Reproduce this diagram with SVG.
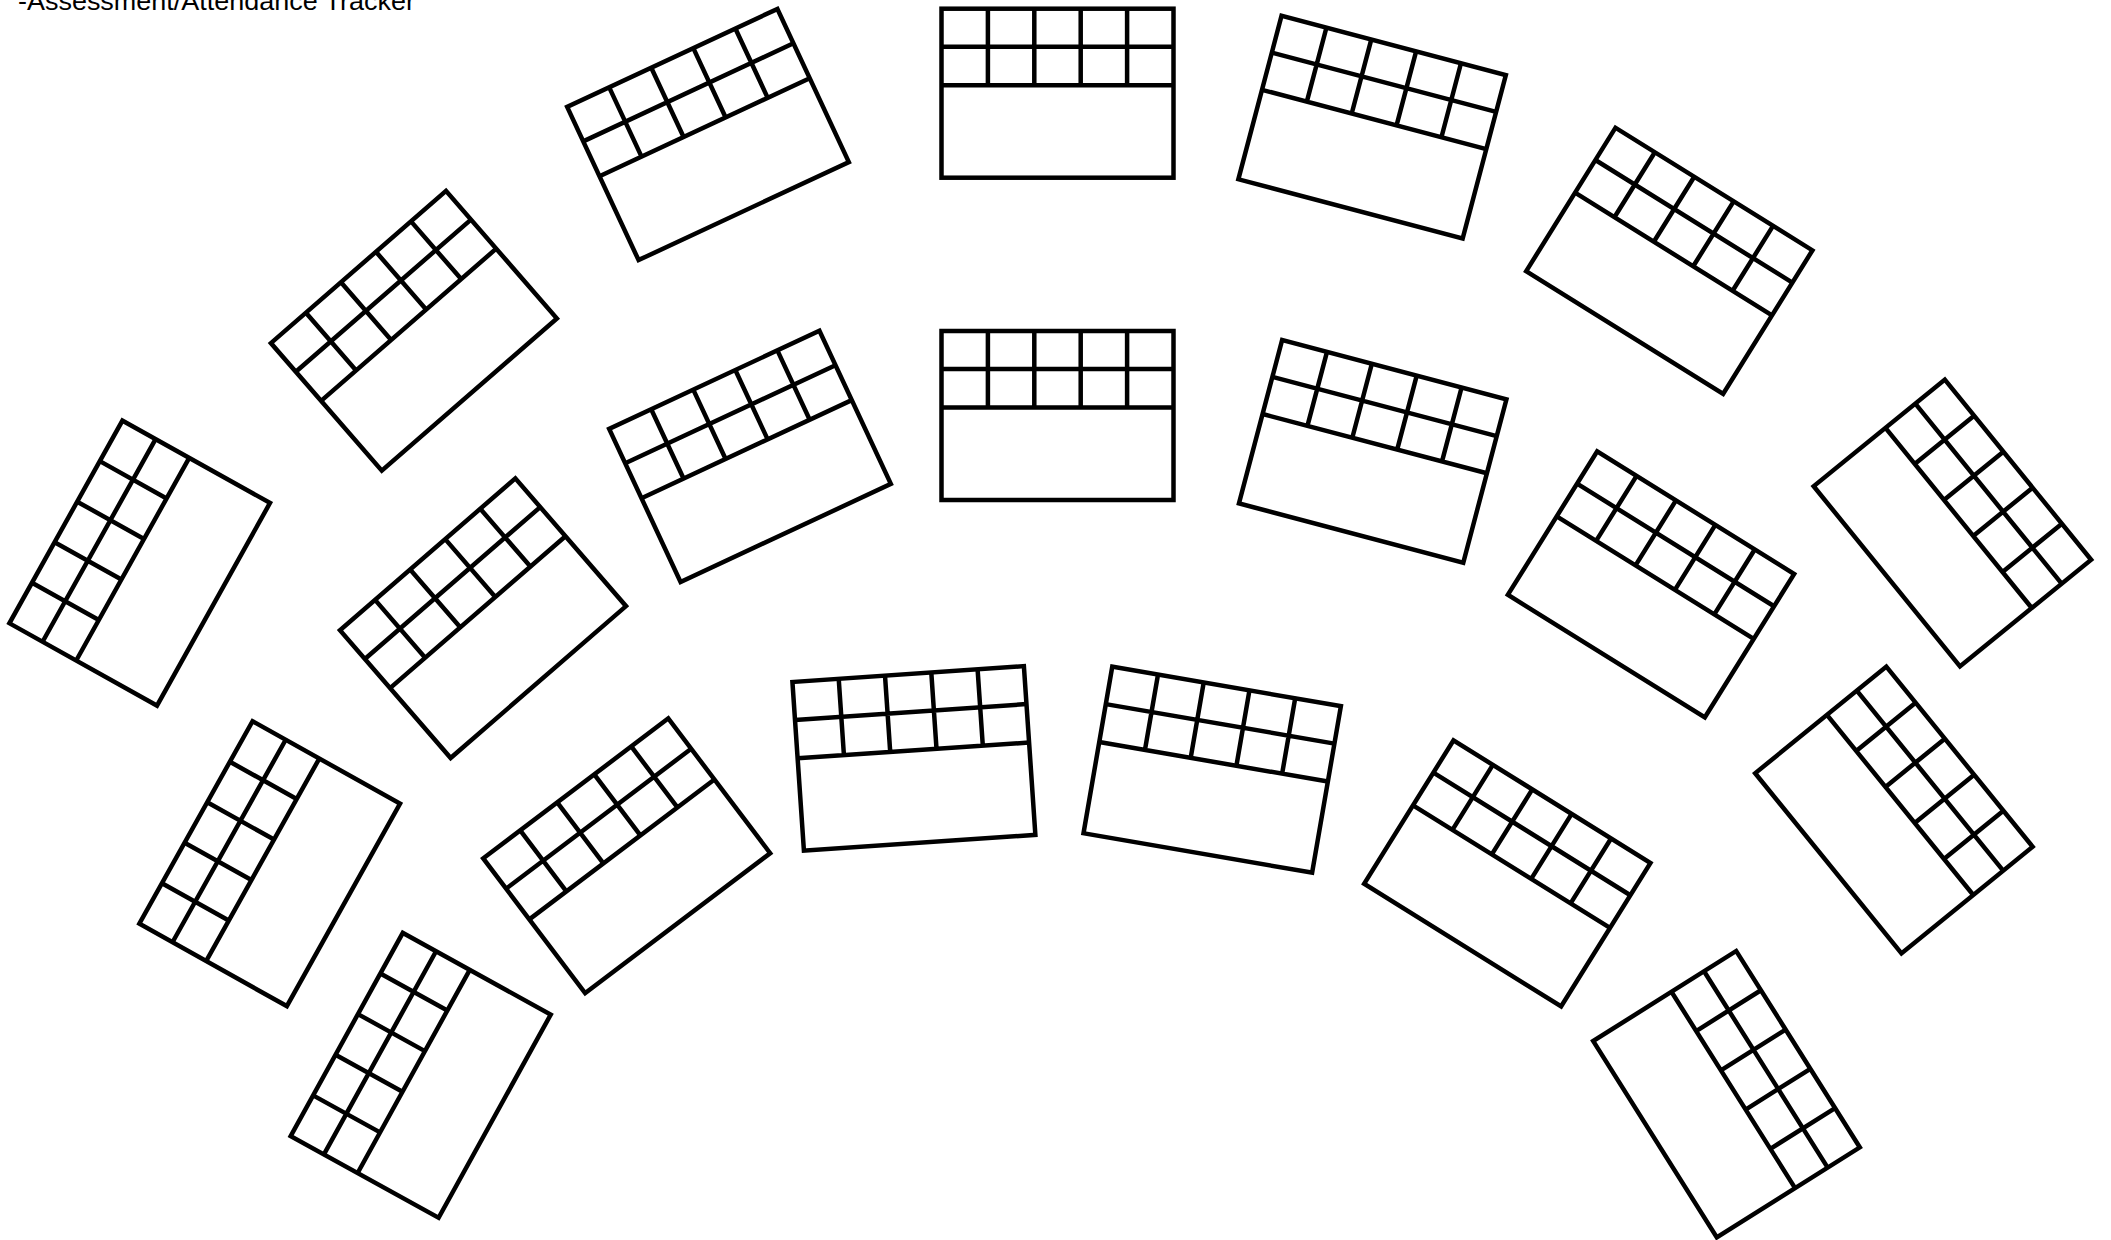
<svg xmlns="http://www.w3.org/2000/svg" xmlns:xlink="http://www.w3.org/1999/xlink" width="2111" height="1240" viewBox="0 0 2111 1240">
  <style>
    .card rect, .card path { fill: none; stroke: #000; stroke-width: 4.5; stroke-linejoin: miter; }
    .title { font-family: "Liberation Sans", Arial, sans-serif; font-size: 26px; fill: #000; }
  </style>
  <defs>
    <g id="desk" class="card">
      <rect x="-116" y="-84.5" width="232" height="169"/>
      <path d="M-116,-46.5 H116 M-116,-8 H116 M-69.6,-84.5 V-8 M-23.2,-84.5 V-8 M23.2,-84.5 V-8 M69.6,-84.5 V-8"/>
    </g>
  </defs>
  <rect width="2111" height="1240" fill="#fff"/>
  <text class="title" x="18" y="10" textLength="397" lengthAdjust="spacingAndGlyphs">-Assessment/Attendance Tracker</text>
  <g id="desks">
    <g id="desk-A" transform="translate(708,134.5) rotate(-25)"><use href="#desk"/></g>
    <g id="desk-B" transform="translate(1057.5,93.2)"><use href="#desk"/></g>
    <g id="desk-C" transform="translate(1372.1,127.2) rotate(14.8)"><use href="#desk"/></g>
    <g id="desk-D" transform="translate(1669.3,260.8) rotate(31.9)"><use href="#desk"/></g>
    <g id="desk-E" transform="translate(413.9,330.8) rotate(-41)"><use href="#desk"/></g>
    <g id="desk-F" transform="translate(139.7,563.1) rotate(-60.85)"><use href="#desk"/></g>
    <g id="desk-G" transform="translate(483,618.2) rotate(-40.9)"><use href="#desk"/></g>
    <g id="desk-H" transform="translate(750,456.4) rotate(-25)"><use href="#desk"/></g>
    <g id="desk-I" transform="translate(1057.5,415.5)"><use href="#desk"/></g>
    <g id="desk-J" transform="translate(1372.7,451.4) rotate(14.8)"><use href="#desk"/></g>
    <g id="desk-K" transform="translate(1651,584.4) rotate(31.9)"><use href="#desk"/></g>
    <g id="desk-L" transform="translate(1952.4,523) rotate(50.9)"><use href="#desk"/></g>
    <g id="desk-M" transform="translate(269.7,863.7) rotate(-60.8)"><use href="#desk"/></g>
    <g id="desk-N" transform="translate(420.7,1075.3) rotate(-61.1)"><use href="#desk"/></g>
    <g id="desk-O" transform="translate(626.7,855.8) rotate(-37.1)"><use href="#desk"/></g>
    <g id="desk-P" transform="translate(913.9,758.4) rotate(-3.9)"><use href="#desk"/></g>
    <g id="desk-Q" transform="translate(1212.2,769.7) rotate(9.8)"><use href="#desk"/></g>
    <g id="desk-R" transform="translate(1507.3,873.4) rotate(31.9)"><use href="#desk"/></g>
    <g id="desk-S" transform="translate(1893.9,810) rotate(50.9)"><use href="#desk"/></g>
    <g id="desk-T" transform="translate(1726.5,1094.2) rotate(57.8)"><use href="#desk"/></g>
  </g>
</svg>
